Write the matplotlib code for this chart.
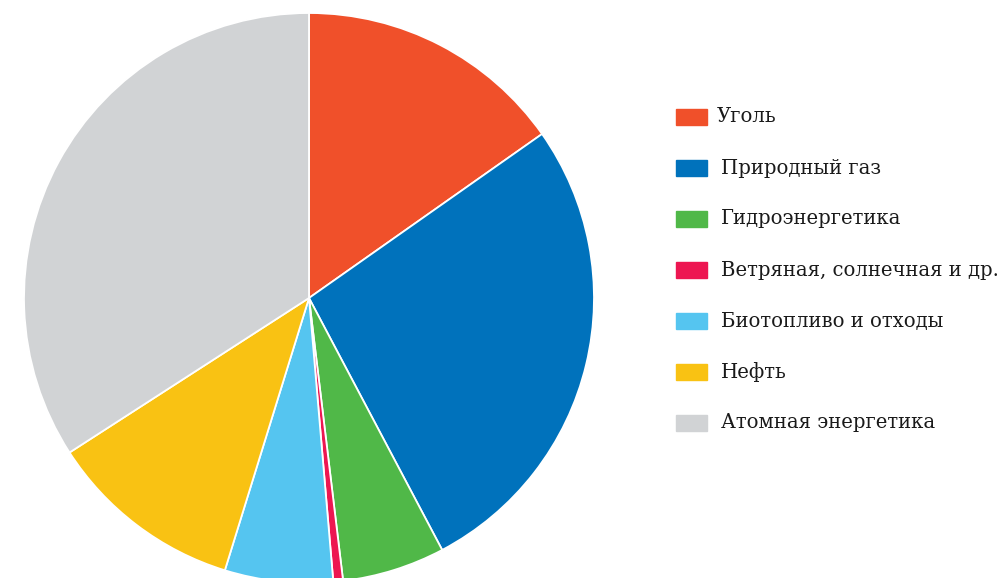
import matplotlib
matplotlib.use("Agg")
import matplotlib.pyplot as plt
from matplotlib.patches import Rectangle

# energy mix shares, percent
labels = ["Уголь", "Природный газ", "Гидроэнергетика",
          "Ветряная, солнечная и др.", "Биотопливо и отходы",
          "Нефть", "Атомная энергетика"]
shares = [15.24, 27.02, 5.83, 0.55, 6.13, 11.11, 34.12]
colors = ["#F0502A", "#0072BC", "#50B848", "#ED1651",
          "#55C5F0", "#F9C213", "#D1D3D5"]

W, H = 1006, 578
fig = plt.figure(figsize=(W / 100, H / 100), dpi=100)

# pie centre at (309, 298) px, radius 285 px
cx, cy, r = 309, 298, 285
ax = fig.add_axes([(cx - r) / W, (H - cy - r) / H, 2 * r / W, 2 * r / H])
ax.pie(shares, colors=colors, startangle=90, counterclock=False,
       radius=1, wedgeprops=dict(edgecolor="white", linewidth=1.3))
ax.set_xlim(-1, 1)
ax.set_ylim(-1, 1)
ax.set_aspect("equal")
ax.axis("off")

# legend, drawn by hand
y0, step = 117, 51
for i, (lab, col) in enumerate(zip(labels, colors)):
    y = y0 + i * step
    fig.patches.append(Rectangle((676 / W, 1 - (y + 8) / H), 31 / W, 16 / H,
                                 transform=fig.transFigure, color=col))
    fig.text((717 if i == 0 else 721) / W, 1 - y / H, lab,
             fontsize=14.1, family="DejaVu Serif", color="#1A1A1A",
             va="center", ha="left")

fig.savefig("out.png", dpi=100)
